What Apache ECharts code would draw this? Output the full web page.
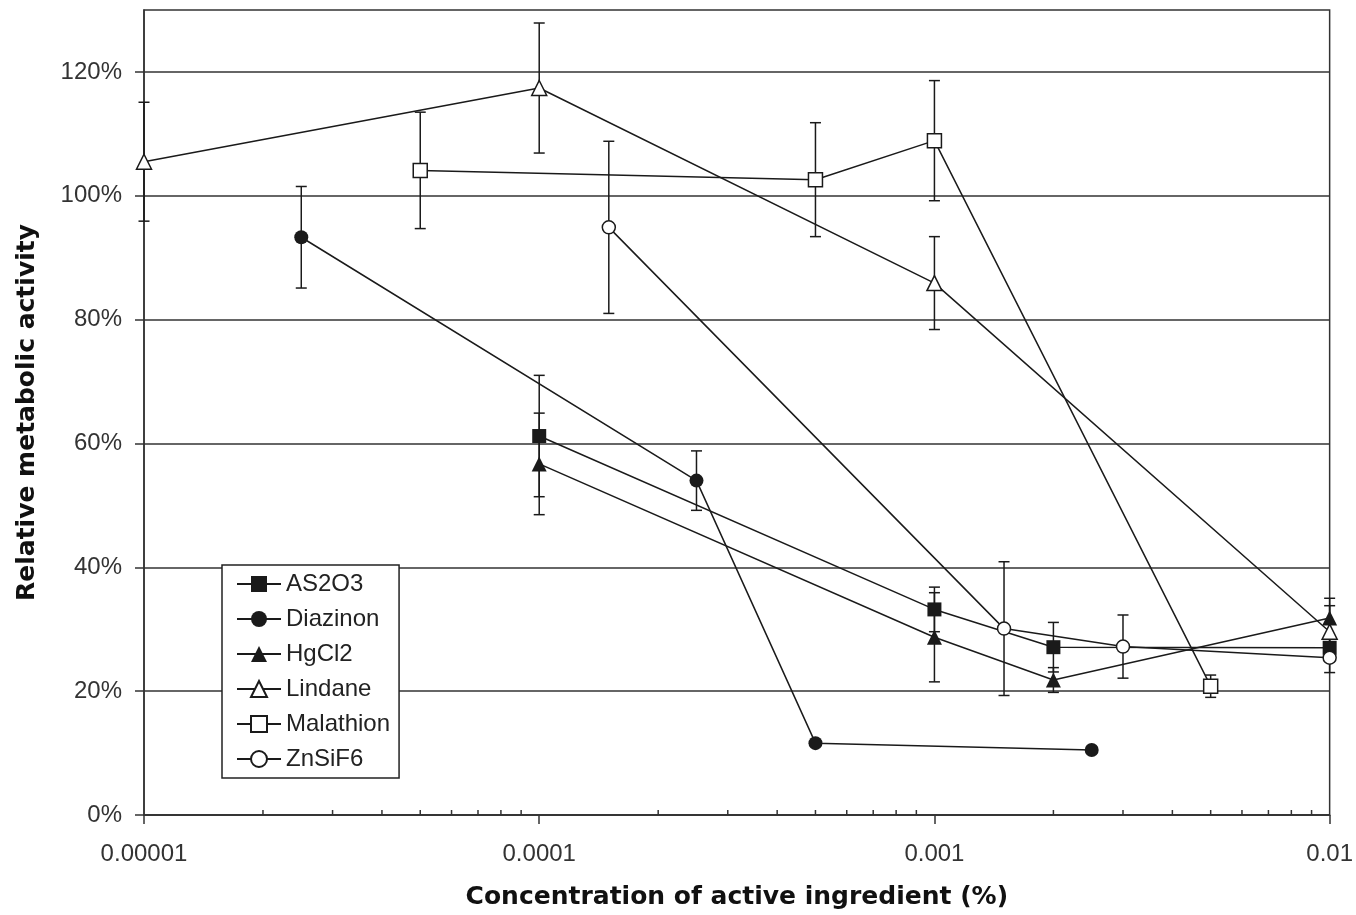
<!DOCTYPE html>
<html>
<head>
<meta charset="utf-8">
<script src="https://cdn.jsdelivr.net/npm/echarts@6/dist/echarts.min.js"></script>
<style>
html,body{margin:0;padding:0;background:#fff;}
#chart{width:1356px;height:915px;}
</style>
</head>
<body>
<div id="chart"></div>
<script>
// ---- Data ----
const xTickLabels = ['0.00001', '0.0001', '0.001', '0.01'];
const yTickValues = [0, 20, 40, 60, 80, 100, 120];
const minorTickValues = [2e-5,3e-5,4e-5,5e-5,6e-5,7e-5,8e-5,9e-5,
                         2e-4,3e-4,4e-4,5e-4,6e-4,7e-4,8e-4,9e-4,
                         2e-3,3e-3,4e-3,5e-3,6e-3,7e-3,8e-3,9e-3];

const seriesNames = ['AS2O3', 'Diazinon', 'HgCl2', 'Lindane', 'Malathion', 'ZnSiF6'];

const as2o3X = [1e-4, 1e-3, 2e-3, 1e-2];
const as2o3Y = [61.2, 33.2, 27.1, 27.0];
const as2o3Err = [9.8, 3.6, 4.0, 4.0];

const diazinonX = [2.5e-5, 2.5e-4, 5e-4, 2.5e-3];
const diazinonY = [93.3, 54.0, 11.6, 10.5];
const diazinonErr = [8.2, 4.8, 0.5, 0.5];

const hgcl2X = [1e-4, 1e-3, 2e-3, 1e-2];
const hgcl2Y = [56.7, 28.7, 21.8, 31.8];
const hgcl2Err = [8.2, 7.2, 2.0, 3.2];

const lindaneX = [1e-5, 1e-4, 1e-3, 1e-2];
const lindaneY = [105.5, 117.4, 85.9, 29.6];
const lindaneErr = [9.6, 10.5, 7.5, 4.2];

const malathionX = [5e-5, 5e-4, 1e-3, 5e-3];
const malathionY = [104.1, 102.6, 108.9, 20.8];
const malathionErr = [9.4, 9.2, 9.7, 1.8];

const znsif6X = [1.5e-4, 1.5e-3, 3e-3, 1e-2];
const znsif6Y = [94.9, 30.1, 27.2, 25.4];
const znsif6Err = [13.9, 10.8, 5.1, 0];

// ---- Build ----
const groups = [
  {name: 'AS2O3', x: as2o3X, y: as2o3Y, e: as2o3Err, symbol: 'rect', filled: true, size: 14},
  {name: 'Diazinon', x: diazinonX, y: diazinonY, e: diazinonErr, symbol: 'circle', filled: true, size: 14},
  {name: 'HgCl2', x: hgcl2X, y: hgcl2Y, e: hgcl2Err, symbol: 'triangle', filled: true, size: 15},
  {name: 'Lindane', x: lindaneX, y: lindaneY, e: lindaneErr, symbol: 'triangle', filled: false, size: 15},
  {name: 'Malathion', x: malathionX, y: malathionY, e: malathionErr, symbol: 'rect', filled: false, size: 14},
  {name: 'ZnSiF6', x: znsif6X, y: znsif6Y, e: znsif6Err, symbol: 'circle', filled: false, size: 13}
];

const ink = '#1a1a1a';
const errData = [];
groups.forEach(g => g.x.forEach((xv, i) => {
  if (g.e[i] > 0) errData.push([xv, g.y[i] - g.e[i], g.y[i] + g.e[i]]);
}));

const lineSeries = groups.map(g => ({
  name: g.name,
  type: 'line',
  data: g.x.map((xv, i) => [xv, g.y[i]]),
  symbol: g.symbol,
  symbolSize: g.size,
  showAllSymbol: true,
  clip: false,
  z: 3,
  lineStyle: {color: ink, width: 1.5},
  itemStyle: {
    color: g.filled ? ink : '#ffffff',
    borderColor: ink,
    borderWidth: g.filled ? 0 : 1.5
  },
  emphasis: {disabled: true},
  animation: false
}));

const errorSeries = {
  type: 'custom',
  name: 'errors',
  data: errData,
  clip: false,
  z: 2,
  silent: true,
  animation: false,
  encode: {x: 0, y: [1, 2]},
  renderItem: function (params, api) {
    const x = api.value(0);
    const lo = api.coord([x, api.value(1)]);
    const hi = api.coord([x, api.value(2)]);
    const cap = 5.5;
    const st = {stroke: ink, lineWidth: 1.5};
    return {
      type: 'group',
      children: [
        {type: 'line', shape: {x1: lo[0], y1: lo[1], x2: hi[0], y2: hi[1]}, style: st},
        {type: 'line', shape: {x1: lo[0] - cap, y1: lo[1], x2: lo[0] + cap, y2: lo[1]}, style: st},
        {type: 'line', shape: {x1: hi[0] - cap, y1: hi[1], x2: hi[0] + cap, y2: hi[1]}, style: st}
      ]
    };
  }
};

const minorTickSeries = {
  type: 'custom',
  name: 'minorTicks',
  data: minorTickValues.map(v => [v, 0]),
  clip: false,
  z: 4,
  silent: true,
  animation: false,
  renderItem: function (params, api) {
    const p = api.coord([api.value(0), 0]);
    return {type: 'line', shape: {x1: p[0], y1: p[1], x2: p[0], y2: p[1] - 5},
            style: {stroke: '#333', lineWidth: 1.5}};
  }
};

const chart = echarts.init(document.getElementById('chart'), null, {renderer: 'canvas'});
chart.setOption({
  animation: false,
  backgroundColor: '#ffffff',
  grid: {
    left: 144, right: 20, top: 10, bottom: 98,
    show: true, borderColor: '#333', borderWidth: 1.5, backgroundColor: '#ffffff'
  },
  legend: {
    data: seriesNames,
    orient: 'vertical',
    left: 222,
    top: 565,
    itemWidth: 44,
    itemHeight: 20,
    itemGap: 7,
    padding: [5, 9, 5, 14],
    backgroundColor: '#ffffff',
    borderColor: '#222',
    borderWidth: 1.5,
    borderRadius: 0,
    selectedMode: false,
    z: 10,
    textStyle: {fontFamily: 'Liberation Sans, Arial, sans-serif', fontSize: 24, color: '#222', lineHeight: 28, padding: [0, 0, 0, 0]}
  },
  xAxis: {
    type: 'log',
    logBase: 10,
    min: 1e-5,
    max: 1e-2,
    name: 'Concentration of active ingredient (%)',
    nameLocation: 'middle',
    nameGap: 70,
    nameTextStyle: {fontFamily: 'DejaVu Sans, sans-serif', fontWeight: 'bold', fontSize: 25, color: '#111'},
    axisLine: {show: true, lineStyle: {color: '#333', width: 1.5}},
    axisTick: {show: true, inside: false, length: 9, lineStyle: {color: '#333', width: 1.5}},
    splitLine: {show: false},
    minorTick: {show: false},
    axisLabel: {
      margin: 27,
      fontFamily: 'Liberation Sans, Arial, sans-serif',
      fontSize: 24,
      color: '#333',
      formatter: function (v) {
        const k = Math.round(Math.log10(v)) + 5;
        return xTickLabels[k] !== undefined ? xTickLabels[k] : '';
      }
    }
  },
  yAxis: {
    type: 'value',
    min: 0,
    max: 130,
    interval: 20,
    name: 'Relative metabolic activity',
    nameLocation: 'middle',
    nameGap: 104,
    nameTextStyle: {fontFamily: 'DejaVu Sans, sans-serif', fontWeight: 'bold', fontSize: 25, color: '#111'},
    axisLine: {show: true, lineStyle: {color: '#333', width: 1.5}},
    axisTick: {show: true, inside: false, length: 9, customValues: yTickValues, lineStyle: {color: '#333', width: 1.5}},
    splitLine: {show: true, lineStyle: {color: '#333', width: 1.5}},
    axisLabel: {
      customValues: yTickValues,
      margin: 22,
      fontFamily: 'Liberation Sans, Arial, sans-serif',
      fontSize: 24,
      color: '#333',
      formatter: v => v + '%'
    }
  },
  series: [errorSeries, minorTickSeries].concat(lineSeries)
});
</script>
</body>
</html>
